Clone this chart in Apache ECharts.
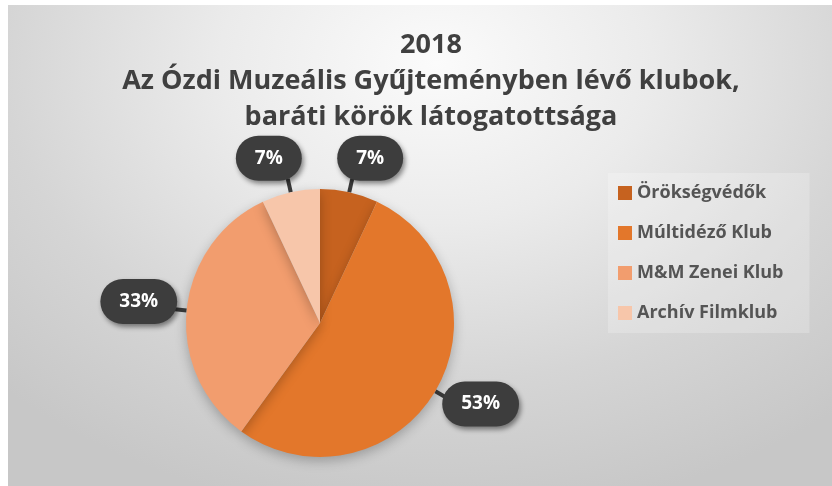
<!DOCTYPE html>
<html>
<head>
<meta charset="utf-8">
<script src="https://cdn.jsdelivr.net/npm/echarts@6/dist/echarts.min.js"></script>
<style>
  html, body { margin: 0; padding: 0; background: #ffffff; }
  #panel { position: absolute; left: 8px; top: 5px; width: 824px; height: 481px;
    background: radial-gradient(ellipse 75% 95% at 52% 12%, #fbfbfb 0%, #ebebeb 35%, #d5d5d5 70%, #c7c7c7 100%); }
  #chart { position: absolute; left: 0; top: 0; width: 832px; height: 486px; }
</style>
</head>
<body>
<div id="panel"></div>
<div id="chart"></div>
<script>
// ---- data ----
const titleLines = ['2018', 'Az Ózdi Muzeális Gyűjteményben lévő klubok,', 'baráti körök látogatottsága'];
const categories = ['Örökségvédők', 'Múltidéző Klub', 'M&M Zenei Klub', 'Archív Filmklub'];
const shares = [7, 53, 33, 7];

// ---- styles ----
const sliceColors = ['#C6621F', '#E3772B', '#F29D6E', '#F7C6AA'];
const labelNudge = [[12, 6], [10, -8], [-7, -5], [-13, 6]];
const FONT = "'Open Sans', sans-serif";

const pieData = categories.map((c, i) => ({ name: c, value: shares[i], itemStyle: { color: sliceColors[i] } }));
const ringData = categories.map((c, i) => ({ name: c, value: shares[i] }));

const chart = echarts.init(document.getElementById('chart'), null, { renderer: 'canvas' });
chart.setOption({
  backgroundColor: 'transparent',
  animation: false,
  title: {
    text: titleLines.join('\n'),
    left: 426,
    textAlign: 'center',
    top: 22,
    textStyle: { fontFamily: FONT, fontSize: 27, fontWeight: 'bold', color: '#404040', lineHeight: 36 }
  },
  legend: {
    orient: 'vertical',
    left: 608,
    top: 173,
    padding: [10, 26, 10, 10],
    backgroundColor: 'rgba(255,255,255,0.22)',
    itemWidth: 14,
    itemHeight: 14,
    itemGap: 20,
    icon: 'rect',
    data: categories,
    textStyle: { fontFamily: FONT, fontSize: 18, fontWeight: 'bold', color: '#555555', lineHeight: 20 }
  },
  series: [
    {
      type: 'pie',
      center: [320, 323],
      radius: 134,
      startAngle: 90,
      clockwise: true,
      avoidLabelOverlap: false,
      data: pieData,
      itemStyle: { borderWidth: 0, shadowBlur: 12, shadowColor: 'rgba(0,0,0,0.25)', shadowOffsetY: 4 },
      label: { show: true, position: 'outside', formatter: ' ', fontSize: 1 },
      labelLine: { show: true, length: 14, length2: 0, smooth: false,
        lineStyle: { color: '#3b3b3b', width: 4 } },
      emphasis: { disabled: true }
    },
    {
      type: 'pie',
      center: [320, 323],
      radius: [164, 180],
      startAngle: 90,
      clockwise: true,
      silent: true,
      legendHoverLink: false,
      data: ringData,
      itemStyle: { color: 'rgba(0,0,0,0)' },
      label: {
        show: true,
        position: 'inside',
        formatter: p => Math.round(p.percent) + '%',
        fontFamily: FONT,
        fontSize: 19,
        fontWeight: 'bold',
        color: '#ffffff',
        backgroundColor: '#3d3d3d',
        padding: [13, 19],
        borderRadius: 26,
        shadowBlur: 5,
        shadowColor: 'rgba(0,0,0,0.45)',
        shadowOffsetX: 2,
        shadowOffsetY: 3
      },
      labelLayout: p => ({ dx: labelNudge[p.dataIndex][0], dy: labelNudge[p.dataIndex][1] }),
      emphasis: { disabled: true }
    }
  ]
});
</script>
</body>
</html>
